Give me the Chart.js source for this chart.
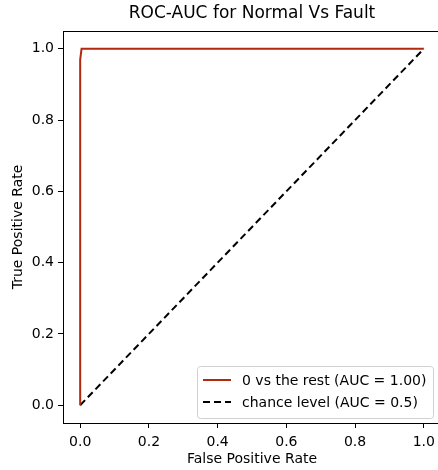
<!DOCTYPE html>
<html><head><meta charset="utf-8">
<script src="https://cdn.jsdelivr.net/npm/chart.js@4/dist/chart.umd.min.js"></script>
<style>html,body{margin:0;padding:0;background:#fff;overflow:hidden}#wrap{width:450px;height:470px;position:relative}</style>
</head><body><div id="wrap"><canvas id="c" width="450" height="470"></canvas></div>
<script>
const titleText = "ROC-AUC for Normal Vs Fault";
const xTitle = "False Positive Rate";
const yTitle = "True Positive Rate";
const rocLabel = "0 vs the rest (AUC = 1.00)";
const chanceLabel = "chance level (AUC = 0.5)";
const rocFpr = [0, 0, 0.004, 1];
const rocTpr = [0, 0.97, 1, 1];
const chanceX = [0, 1];
const chanceY = [0, 1];
const tickValues = [0, 0.2, 0.4, 0.6, 0.8, 1.0];

const FONT = "'DejaVu Sans', sans-serif";

const framePlugin = {
  id: 'frame',
  afterDraw(chart) {
    const {ctx, chartArea: a} = chart;
    ctx.save();
    ctx.strokeStyle = '#000';
    ctx.lineWidth = 1;
    ctx.strokeRect(a.left + 0.5, a.top + 0.5, a.right - a.left, a.bottom - a.top);
    // title centred over the plot area
    ctx.font = '17px ' + FONT;
    ctx.fillStyle = '#000';
    ctx.textAlign = 'center';
    ctx.textBaseline = 'middle';
    ctx.fillText(titleText, (a.left + a.right) / 2, 14);
    ctx.textAlign = 'left';
    // legend
    const bx = 197, by = 366, bw = 236, bh = 52;
    ctx.fillStyle = 'rgba(255,255,255,0.85)';
    ctx.strokeStyle = '#d0d0d0';
    ctx.beginPath();
    ctx.roundRect(bx + 0.5, by + 0.5, bw, bh, 3);
    ctx.fill(); ctx.stroke();
    ctx.font = '14px ' + FONT;
    ctx.textBaseline = 'middle';
    chart.data.datasets.forEach((ds, i) => {
      const y = by + 14 + i * 22;
      ctx.strokeStyle = ds.borderColor;
      ctx.lineWidth = ds.borderWidth;
      ctx.setLineDash(ds.borderDash || []);
      ctx.beginPath(); ctx.moveTo(bx + 6, y); ctx.lineTo(bx + 34, y); ctx.stroke();
      ctx.setLineDash([]);
      ctx.fillStyle = '#000';
      ctx.fillText(ds.label, bx + 45, y + 1);
    });
    ctx.restore();
  }
};

new Chart(document.getElementById('c'), {
  type: 'scatter',
  data: {
    datasets: [
      { label: rocLabel, data: rocFpr.map((x, i) => ({x, y: rocTpr[i]})), showLine: true,
        borderColor: '#b3290d', borderWidth: 2, pointRadius: 0, tension: 0 },
      { label: chanceLabel, data: chanceX.map((x, i) => ({x, y: chanceY[i]})), showLine: true,
        borderColor: '#000', borderWidth: 2, borderDash: [7, 4], pointRadius: 0 }
    ]
  },
  options: {
    responsive: false, animation: false,
    layout: { padding: { left: 0, right: 9, top: 31, bottom: 0 } },
    plugins: {
      legend: { display: false }, tooltip: { enabled: false },
      title: { display: false }
    },
    scales: {
      x: { type: 'linear', min: -0.05, max: 1.05,
        afterBuildTicks: s => { s.ticks = tickValues.map(v => ({value: v})); },
        afterFit: s => { s.height = 47; },
        grid: { drawOnChartArea: false, drawTicks: true, tickLength: 5, color: '#000' },
        border: { color: '#000' },
        ticks: { color: '#000', font: { family: FONT, size: 14 }, padding: 6, maxRotation: 0,
          callback: v => v.toFixed(1) },
        title: { display: true, text: xTitle, color: '#000', font: { family: FONT, size: 14 }, padding: { top: 0, bottom: 2 } }
      },
      y: { type: 'linear', min: -0.05, max: 1.05,
        afterBuildTicks: s => { s.ticks = tickValues.map(v => ({value: v})); },
        afterFit: s => { s.width = 63; },
        grid: { drawOnChartArea: false, drawTicks: true, tickLength: 5, color: '#000' },
        border: { color: '#000' },
        ticks: { color: '#000', font: { family: FONT, size: 14 }, padding: 4,
          callback: v => v.toFixed(1) },
        title: { display: true, text: yTitle, color: '#000', font: { family: FONT, size: 14 }, padding: { top: 10, bottom: 0 } }
      }
    }
  },
  plugins: [framePlugin]
});
</script></body></html>
